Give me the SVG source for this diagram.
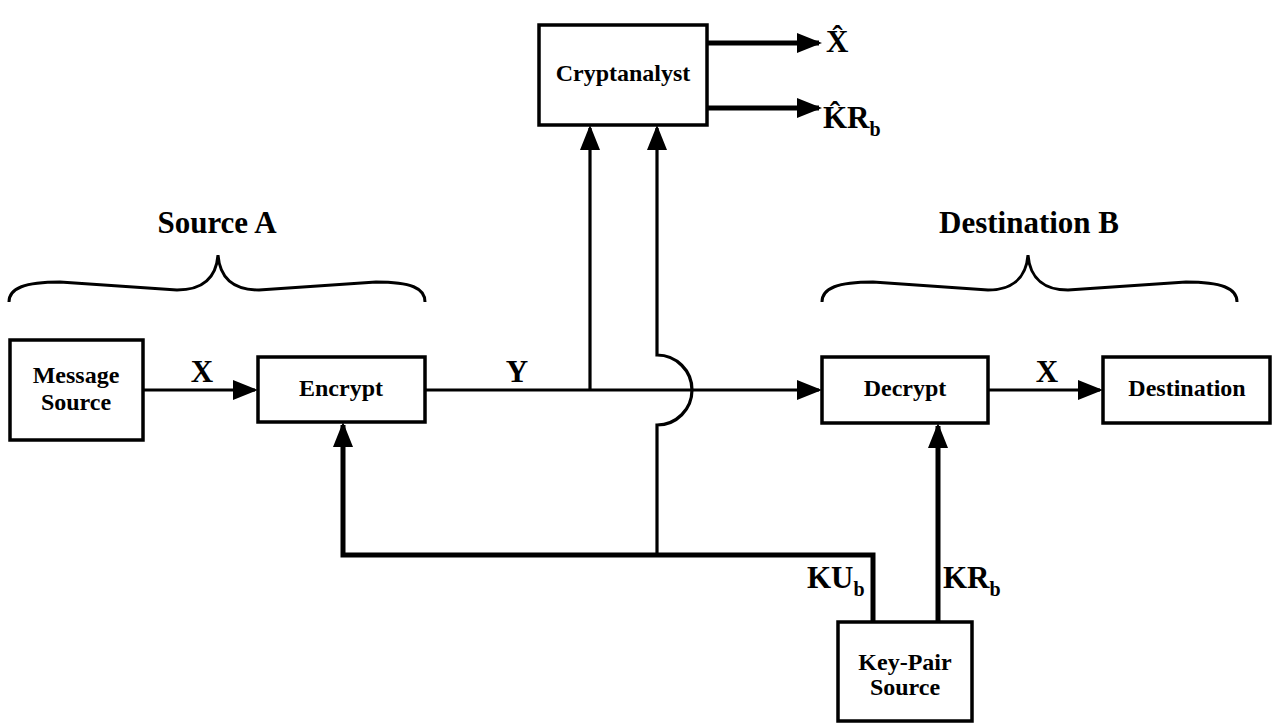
<svg xmlns="http://www.w3.org/2000/svg" width="1273" height="723" viewBox="0 0 1273 723">
  <style>
    .box { fill: #fff; stroke: #000; stroke-width: 3.5; }
    .t { font-family: "Liberation Serif", "Times New Roman", serif; font-weight: bold; fill: #000; }
    .bt { font-size: 24px; text-anchor: middle; }
    .lbl { font-size: 31px; }
    .sub { font-size: 20px; }
    .ln { fill: none; stroke: #000; stroke-width: 3.2; }
    .thick { fill: none; stroke: #000; stroke-width: 5; }
    .brace { fill: none; stroke: #000; stroke-width: 3; }
  </style>
  <defs>
    <marker id="ah" markerUnits="userSpaceOnUse" markerWidth="26" markerHeight="22" refX="22" refY="10" orient="auto">
      <path d="M0,0 L25,10 L0,20 Z" fill="#000"/>
    </marker>
  </defs>

  <g id="brace-source-a">
    <path class="brace" d="M9,302 C9,288 25,282 60,282 L177,290 C200,290 216,280 218,255 C220,280 236,290 259,290 L376,282 C411,282 425,288 425,302"/>
    <text class="t lbl" x="217" y="233" text-anchor="middle">Source A</text>
  </g>
  <g id="brace-destination-b">
    <path class="brace" d="M822,302 C822,288 838,282 873,282 L988,290 C1010,290 1026,280 1028,255 C1030,280 1046,290 1068,290 L1186,282 C1221,282 1237,288 1237,302"/>
    <text class="t lbl" x="1029" y="233" text-anchor="middle">Destination B</text>
  </g>

  <g id="connectors">
    <path class="ln" d="M143,390 H255" marker-end="url(#ah)"/>
    <path class="ln" d="M425,390 H819" marker-end="url(#ah)"/>
    <path class="ln" d="M590,390 V128" marker-end="url(#ah)"/>
    <path class="ln" d="M657,555 V425 A35,35 0 0 0 657,355 V128" marker-end="url(#ah)"/>
    <path class="thick" d="M873,622 V555 H343 V425" marker-end="url(#ah)"/>
    <path class="thick" d="M938,622 V426" marker-end="url(#ah)"/>
    <path class="ln" d="M988,390 H1100" marker-end="url(#ah)"/>
    <path class="thick" d="M707,43 H819" marker-end="url(#ah)"/>
    <path class="thick" d="M707,108 H819" marker-end="url(#ah)"/>
    <text class="t lbl" x="202" y="382" text-anchor="middle">X</text>
    <text class="t lbl" x="517" y="382" text-anchor="middle">Y</text>
    <text class="t lbl" x="1047" y="382" text-anchor="middle">X</text>
    <text class="t lbl" x="807" y="588">KU<tspan class="sub" dy="8">b</tspan></text>
    <text class="t lbl" x="943" y="588">KR<tspan class="sub" dy="8">b</tspan></text>
    <text class="t lbl" x="826" y="52">X&#x302;</text>
    <text class="t lbl" x="823" y="128">K&#x302;R<tspan class="sub" dy="8">b</tspan></text>
  </g>

  <g id="message-source">
    <rect class="box" x="10" y="340" width="133" height="100"/>
    <text class="t bt" x="76" y="383">Message</text>
    <text class="t bt" x="76" y="410">Source</text>
  </g>
  <g id="encrypt">
    <rect class="box" x="258" y="357" width="167" height="65"/>
    <text class="t bt" x="341" y="396">Encrypt</text>
  </g>
  <g id="cryptanalyst">
    <rect class="box" x="539" y="25" width="168" height="100"/>
    <text class="t bt" x="623" y="81">Cryptanalyst</text>
  </g>
  <g id="decrypt">
    <rect class="box" x="822" y="357" width="166" height="66"/>
    <text class="t bt" x="905" y="396">Decrypt</text>
  </g>
  <g id="destination">
    <rect class="box" x="1103" y="357" width="167" height="66"/>
    <text class="t bt" x="1187" y="396">Destination</text>
  </g>
  <g id="key-pair-source">
    <rect class="box" x="838" y="622" width="134" height="99"/>
    <text class="t bt" x="905" y="670">Key-Pair</text>
    <text class="t bt" x="905" y="695">Source</text>
  </g>
</svg>
